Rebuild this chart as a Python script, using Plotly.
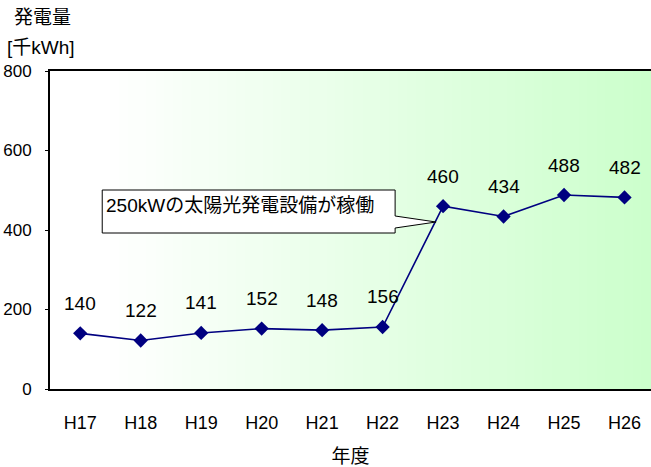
import plotly.graph_objects as go

years = ["H17", "H18", "H19", "H20", "H21", "H22", "H23", "H24", "H25", "H26"]
output = [140, 122, 141, 152, 148, 156, 460, 434, 488, 482]
y_ticks = [0, 200, 400, 600, 800]
callout_text = "250kWの太陽光発電設備が稼働"

FONT = "Liberation Sans, Arial, Noto Sans CJK JP, sans-serif"
W, H = 651, 467
ML, MR, MT, MB = 50, 0, 71, 78

fig = go.Figure()

xs = list(range(len(years)))
fig.add_trace(go.Scatter(
    x=xs, y=output,
    mode="lines+markers",
    line=dict(color="#000080", width=1.6),
    marker=dict(symbol="diamond", size=11, color="#000080"),
    cliponaxis=False,
    hoverinfo="skip",
))

shapes = []
# gradient background
n = 60
x0p = 0.1
for i in range(n):
    a = x0p + (1 - x0p) * i / n
    b = x0p + (1 - x0p) * (i + 1) / n + 0.002
    t = (i + 1) / n
    r = round(255 - (255 - 204) * t)
    shapes.append(dict(type="rect", xref="paper", yref="paper", x0=a, x1=min(b, 1), y0=0, y1=1,
                       fillcolor=f"rgb({r},255,{r})", line=dict(width=0), layer="below"))

def px2x(px):
    return (px - 80) / 60.5
def py2y(py):
    return (389 - py) / 0.3975

bx0, bx1, by0, by1 = px2x(102), px2x(395), py2y(190), py2y(233)
tipx, tipy = px2x(436), py2y(222)
p1y, p2y = py2y(216), py2y(228)
path = (f"M {bx0},{by0} L {bx1},{by0} L {bx1},{p1y} L {tipx},{tipy} L {bx1},{p2y} "
        f"L {bx1},{by1} L {bx0},{by1} Z")
shapes.append(dict(type="path", xref="x", yref="y", path=path, fillcolor="white",
                   line=dict(color="black", width=1), layer="above"))

annotations = [
    dict(text=str(v), x=i, y=v, xref="x", yref="y", yshift=30, showarrow=False,
         xanchor="center", yanchor="middle", font=dict(family=FONT, size=19, color="black"))
    for i, v in zip(xs, output)
]
pw = W - ML - MR
ph = H - MT - MB
annotations += [
    dict(text="発電量", xref="paper", yref="paper", x=(12 - ML) / pw, y=1 + (MT - 17) / ph,
         xanchor="left", yanchor="middle", showarrow=False, font=dict(family=FONT, size=19)),
    dict(text="[千kWh]", xref="paper", yref="paper", x=(5 - ML) / pw, y=1 + (MT - 47) / ph,
         xanchor="left", yanchor="middle", showarrow=False, font=dict(family=FONT, size=19)),
    dict(text=callout_text, xref="x", yref="y", x=px2x(104), y=py2y(205),
         xanchor="left", yanchor="middle", showarrow=False, font=dict(family=FONT, size=19)),
]

fig.update_layout(
    width=W, height=H,
    margin=dict(l=ML, r=MR, t=MT, b=MB, pad=0),
    paper_bgcolor="white", plot_bgcolor="white",
    showlegend=False,
    shapes=shapes,
    annotations=annotations,
    font=dict(family=FONT, size=17, color="black"),
    xaxis=dict(
        range=[-0.5, px2x(651)],
        tickmode="array", tickvals=xs, ticktext=years,
        showgrid=False, zeroline=False,
        showline=True, linecolor="black", linewidth=2, mirror=True,
        ticks="", ticklabelstandoff=16,
        tickfont=dict(family=FONT, size=18),
        title=dict(text="年度", font=dict(family=FONT, size=19), standoff=22),
    ),
    yaxis=dict(
        range=[0, 800],
        tickmode="array", tickvals=y_ticks, ticktext=[str(v) for v in y_ticks],
        showgrid=False, zeroline=False,
        showline=True, linecolor="black", linewidth=2,
        ticks="outside", ticklen=3, tickcolor="black", ticklabelstandoff=10,
        tickfont=dict(family=FONT, size=17),
    ),
)

fig.write_html("out.html")
